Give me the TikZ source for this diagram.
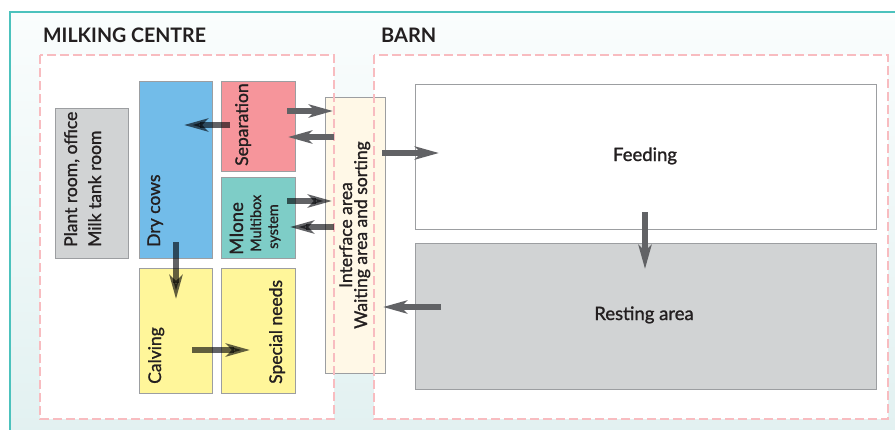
\documentclass[tikz,border=0pt]{standalone}
\usepackage{fontspec}
\usepackage{graphicx}
\setmainfont{Lato}
\newfontfamily\labelfont{Lato}[FakeBold=1.2]
\usetikzlibrary{arrows.meta}

\definecolor{frameteal}{HTML}{4CC2BD}
\definecolor{bgtop}{HTML}{FAFDFD}
\definecolor{bgbottom}{HTML}{E2F1F1}
\definecolor{zonepink}{HTML}{F8BCC0}
\definecolor{boxline}{HTML}{9C9EA1}
\definecolor{plantgrey}{HTML}{D1D3D4}
\definecolor{drycow}{HTML}{72BCE9}
\definecolor{seppink}{HTML}{F6959B}
\definecolor{robotteal}{HTML}{7ECDC7}
\definecolor{penyellow}{HTML}{FFF69A}
\definecolor{waitcream}{HTML}{FFF8E7}
\definecolor{flowgrey}{HTML}{616265}
\definecolor{textdark}{HTML}{231F20}

\newcommand{\mainsize}{\labelfont\fontsize{18.5}{22}\selectfont}
\newcommand{\rotsize}{\labelfont\fontsize{17.5}{21}\selectfont}
\newcommand{\smallsize}{\labelfont\fontsize{14.5}{17}\selectfont}
\newcommand{\headsize}{\fontsize{20}{24}\selectfont}

\tikzset{
  area/.style={draw=boxline, line width=1pt, inner sep=0pt},
  zone/.style={draw=zonepink, line width=2.2pt, dash pattern=on 9pt off 4pt},
  vlabel/.style={rotate=90, inner sep=0pt, text=textdark, font=\rotsize},
  hlabel/.style={inner sep=0pt, text=textdark, font=\mainsize},
  heading/.style={inner sep=0pt, text=textdark, font=\headsize\bfseries, anchor=base west},
  flow/.style={draw=flowgrey, line width=6pt,
    -{Stealth[length=24pt, width=13pt, inset=6pt]}},
}

\begin{document}
\begin{tikzpicture}[x=1pt, y=-1pt]
\useasboundingbox (0,0) rectangle (895,429);
\clip (0,0) rectangle (895,429);

% page and framed panel
\fill[white] (0,0) rectangle (895,429);
\shade[top color=bgtop, bottom color=bgbottom] (10,12) rectangle (900,435);
\draw[frameteal, line width=1.5pt] (10,440) -- (10,12) -- (900,12);

% headings
\node[heading] (hmilk) at (43,42) {\scalebox{0.98}[1]{MILKING CENTRE}};
\node[heading] (hbarn) at (381,42) {BARN};

% zone backgrounds
\fill[white] (40,55) rectangle (334,419);
\fill[white] (374,55) rectangle (888,419);

% interface strip, lies across both zones
\node[area, fill=waitcream, minimum width=60, minimum height=276] (iface) at (355,235) {};

% zone outlines
\draw[zone] (40,55) rectangle (334,419);
\draw[zone] (374,55) rectangle (888,419);

% milking centre areas
\node[area, fill=plantgrey, minimum width=73, minimum height=150] (plant) at (91.5,183) {};
\node[area, fill=drycow, minimum width=73, minimum height=177] (dry) at (175.5,169.5) {};
\node[area, fill=seppink, minimum width=74, minimum height=90] (sep) at (258,126) {};
\node[area, fill=robotteal, minimum width=74, minimum height=81] (mione) at (258,217.5) {};
\node[area, fill=penyellow, minimum width=73, minimum height=125] (calv) at (175.5,330.5) {};
\node[area, fill=penyellow, minimum width=74, minimum height=125] (spec) at (258,330.5) {};

% barn areas
\node[area, fill=white, minimum width=461, minimum height=145] (feed) at (645.5,156.5) {};
\node[area, fill=plantgrey, minimum width=461, minimum height=146] (rest) at (645.5,316) {};

% labels
\node[vlabel, anchor=base west] (tplant1) at (77,247) {Plant room, office};
\node[vlabel, anchor=base west] (tplant2) at (101,247) {Milk tank room};
\node[vlabel, anchor=base west] (tdry) at (160,247) {Dry cows};
\node[vlabel, anchor=base west] (tsep) at (248,166) {Separation};
\node[vlabel, anchor=base west, font=\mainsize] (tmione1) at (243,255) {MIone};
\node[vlabel, anchor=base west, font=\smallsize] (tmione2) at (261,252) {Multibox};
\node[vlabel, anchor=base west, font=\smallsize] (tmione3) at (278,249) {system};
\node[vlabel, anchor=base west] (tcalv) at (161,384) {Calving};
\node[vlabel, anchor=base west] (tspec) at (282,384) {Special needs};
\node[vlabel, anchor=base] (tiface1) at (352,235) {Interface area};
\node[vlabel, anchor=base] (tiface2) at (367,235) {Waiting area and sorting};
\node[hlabel, anchor=base] (tfeed) at (645,161) {Feeding};
\node[hlabel, anchor=base] (trest) at (644,320) {Resting area};

% arrow end points
\coordinate (sepL) at (230,125);   \coordinate (dryR) at (184,125);
\coordinate (sepO) at (287,111);   \coordinate (ifSi) at (333,111);
\coordinate (ifSo) at (334,137);   \coordinate (sepI) at (288,137);
\coordinate (mioO) at (287,201);   \coordinate (ifMi) at (332,201);
\coordinate (ifMo) at (334,227);   \coordinate (mioI) at (290,227);
\coordinate (ifFo) at (382,153);   \coordinate (feedI) at (439,153);
\coordinate (dryB) at (176,242);   \coordinate (calvT) at (176,299);
\coordinate (calvR) at (192,350);  \coordinate (specI) at (250,350);
\coordinate (feedB) at (645,212);  \coordinate (restT) at (645,269);
\coordinate (restL) at (441,307);  \coordinate (ifRi) at (383,307);

% cow traffic: the arrows darken whatever area they cross
\begin{scope}[blend mode=multiply]
\draw[flow] (sepL) -- (dryR);
\draw[flow] (ifMo) -- (mioI);
\draw[flow] (mioO) -- (ifMi);
\draw[flow] (dryB) -- (calvT);
\draw[flow] (calvR) -- (specI);
\end{scope}
\draw[flow] (sepO) -- (ifSi);
\draw[flow] (ifSo) -- (sepI);
\draw[flow] (ifFo) -- (feedI);
\draw[flow] (feedB) -- (restT);
\draw[flow] (restL) -- (ifRi);
\end{tikzpicture}
\end{document}
